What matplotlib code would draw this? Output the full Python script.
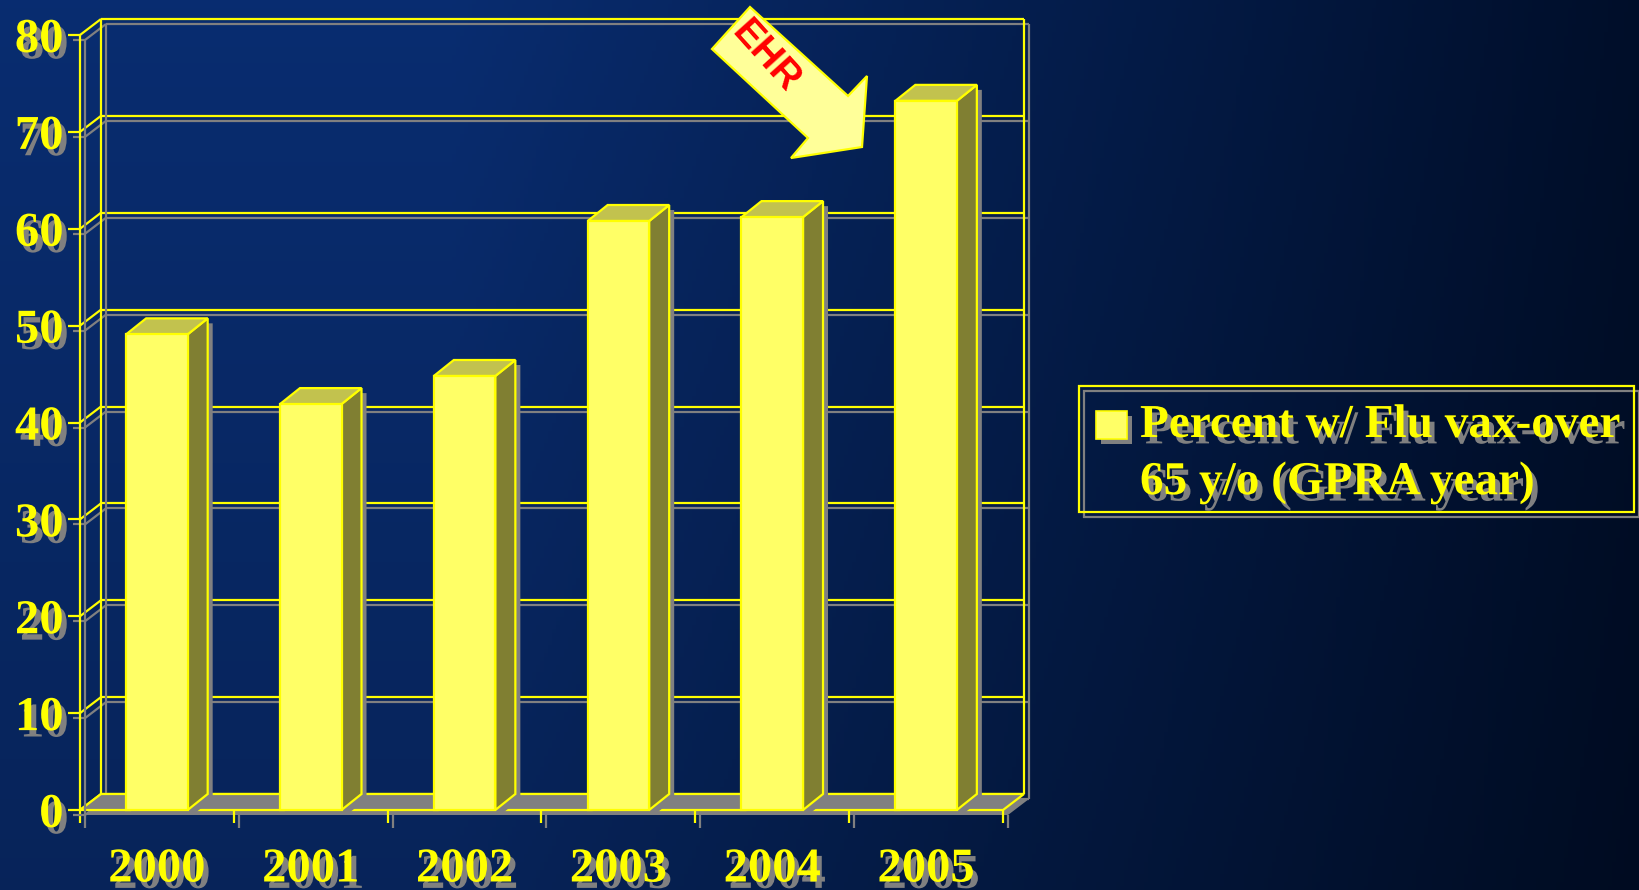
import numpy as np
import matplotlib
matplotlib.use("Agg")
import matplotlib.pyplot as plt
import matplotlib.patheffects as pe
import matplotlib.transforms as mtransforms
from matplotlib.patches import Polygon, Rectangle

# ---------------- data ----------------
years = ["2000", "2001", "2002", "2003", "2004", "2005"]
values = [49.1, 41.9, 44.8, 60.8, 61.2, 73.2]
yticks = [0, 10, 20, 30, 40, 50, 60, 70, 80]
legend_lines = ["Percent w/ Flu vax-over", "65 y/o (GPRA year)"]
callout = "EHR"

# ---------------- style ----------------
W, H, DPI = 1640, 890, 100
YEL = "#ffff00"
GRAY = "#808080"
FRONT = "#ffff66"
TOP = "#c2c24e"
SIDE = "#807f32"
plt.rcParams["font.family"] = ["Liberation Serif", "DejaVu Serif"]
plt.rcParams["font.weight"] = "bold"

def line_shadow():
    return [pe.Stroke(offset=(3.6, -3.6), foreground=GRAY), pe.Normal()]

def text_shadow():
    return [pe.SimplePatchShadow(offset=(3.6, -4.6), shadow_rgbFace=GRAY, alpha=1.0),
            pe.Normal()]

fig = plt.figure(figsize=(W / DPI, H / DPI), dpi=DPI)

# ---------------- background gradient ----------------
bg = fig.add_axes([0, 0, 1, 1], zorder=-10)
xx = np.linspace(0, W, 410)[None, :]
yy = np.linspace(0, 1, 225)[:, None]
t = np.clip((xx - 450) / 1200, 0, 1)[..., None]
c0 = np.array([0.035, 0.175, 0.44])
c1 = np.array([0.0, 0.055, 0.16])
img = (c0 * (1 - t) + c1 * t) * (1 - 0.2 * yy[..., None])
bg.imshow(img, aspect="auto", extent=[0, 1, 0, 1], origin="upper")
bg.axis("off")

# ---------------- main axes (front frame of the 3-D box) ----------------
L, R, T, B = 80, 1003, 35, 810
ax = fig.add_axes([L / W, 1 - B / H, (R - L) / W, (B - T) / H])
n = len(years)
ax.set_xlim(0, n)
ax.set_ylim(0, yticks[-1])
ax.patch.set_visible(False)
for s in ax.spines.values():
    s.set_visible(False)

p0 = ax.transData.transform((0, 0))
p1 = ax.transData.transform((1, 1))
ux, uy = p1[0] - p0[0], p1[1] - p0[1]
wdx, wdy = 21 / ux, 16 / uy     # wall depth in data units
bdx, bdy = 20 / ux, 16 / uy     # bar depth in data units
ymax = yticks[-1]

def seg(xs, ys, z=1):
    ax.plot(xs, ys, color=YEL, lw=1.6, solid_capstyle="butt", clip_on=False,
            zorder=z, path_effects=line_shadow())

# back wall + left wall grid
for g in yticks:
    seg([wdx, n + wdx], [g + wdy, g + wdy])
    seg([0, wdx], [g, g + wdy])
seg([wdx, wdx], [wdy, ymax + wdy])
seg([n + wdx, n + wdx], [wdy, ymax + wdy])
seg([0, 0], [0, ymax], z=2)

# floor
floor = Polygon([(0, 0), (n, 0), (n + wdx, wdy), (wdx, wdy)], closed=True,
                facecolor=GRAY, edgecolor=YEL, lw=1.6, clip_on=False, zorder=1.5,
                path_effects=[pe.SimplePatchShadow(offset=(3.6, -3.6),
                                                   shadow_rgbFace=GRAY, alpha=1.0),
                              pe.Normal()])
ax.add_patch(floor)

# ticks and labels
ax.set_yticks(yticks, labels=[str(v) for v in yticks])
ax.set_xticks(np.arange(n) + 0.5, labels=years)
ax.set_xticks(np.arange(n + 1), minor=True)
ax.tick_params(axis="y", direction="out", length=8.6, width=1.6, color=YEL,
               labelcolor=YEL, labelsize=35, pad=3.2)
ax.tick_params(axis="x", which="major", length=0, labelcolor=YEL,
               labelsize=35, pad=27.0)
ax.tick_params(axis="x", which="minor", direction="out", length=9.4, width=1.6,
               color=YEL)
for tk in ax.yaxis.get_major_ticks():
    tk.tick1line.set_path_effects(line_shadow())
for tk in ax.xaxis.get_minor_ticks():
    tk.tick1line.set_path_effects(line_shadow())
for lbl in ax.get_yticklabels() + ax.get_xticklabels():
    lbl.set_path_effects(text_shadow())

# bars
shadow_tr = ax.transData + mtransforms.ScaledTranslation(5 / DPI, -5 / DPI,
                                                         fig.dpi_scale_trans)
bw = 0.40
for i, v in enumerate(values):
    x0, x1 = i + 0.5 - bw / 2, i + 0.5 + bw / 2
    sil = [(x0, 0), (x0, v), (x0 + bdx, v + bdy), (x1 + bdx, v + bdy),
           (x1 + bdx, bdy), (x1, 0)]
    ax.add_patch(Polygon(sil, closed=True, facecolor=GRAY, edgecolor="none",
                         transform=shadow_tr, clip_on=False, zorder=3))
    ax.add_patch(Polygon([(x1, 0), (x1, v), (x1 + bdx, v + bdy), (x1 + bdx, bdy)],
                         closed=True, facecolor=SIDE, edgecolor=YEL, lw=1.6,
                         clip_on=False, zorder=4))
    ax.add_patch(Polygon([(x0, v), (x1, v), (x1 + bdx, v + bdy), (x0 + bdx, v + bdy)],
                         closed=True, facecolor=TOP, edgecolor=YEL, lw=1.6,
                         clip_on=False, zorder=4))
    ax.add_patch(Rectangle((x0, 0), bw, v, facecolor=FRONT, edgecolor=YEL, lw=1.6,
                           clip_on=False, zorder=5))

# ---------------- legend (drawn by hand) ----------------
def fpx(x, y):
    return (x / W, 1 - y / H)

frame = Rectangle(fpx(1079, 512), (1634 - 1079) / W, (512 - 386) / H,
                  transform=fig.transFigure, facecolor="none", edgecolor=YEL,
                  lw=1.6, path_effects=line_shadow(), zorder=5)
fig.add_artist(frame)
swatch = Rectangle(fpx(1096, 439), 31 / W, 28 / H, transform=fig.transFigure,
                   facecolor=FRONT, edgecolor=YEL, lw=1.2, zorder=6,
                   path_effects=[pe.SimplePatchShadow(offset=(3.6, -3.6),
                                                      shadow_rgbFace=GRAY, alpha=1.0),
                                 pe.Normal()])
fig.add_artist(swatch)
for k, txt in enumerate(legend_lines):
    fig.text(*fpx(1140, 426 + 57 * k), txt, ha="left", va="center", color=YEL,
             fontsize=34, path_effects=text_shadow(), zorder=6)

# ---------------- EHR callout arrow ----------------
arrow_px = [(750, 7), (848, 96), (867, 76), (862, 147), (791, 158), (808, 138), (712, 49)]
arrow = Polygon([fpx(x, y) for x, y in arrow_px], closed=True,
                transform=fig.transFigure, facecolor="#ffff99", edgecolor=YEL,
                lw=1.6, zorder=20)
fig.add_artist(arrow)
fig.text(*fpx(765, 57), callout, rotation=-48, rotation_mode="anchor",
         ha="center", va="center", color="#ff0000", fontsize=28,
         family=["Liberation Sans", "DejaVu Sans"], fontweight="bold", zorder=21)

fig.savefig("out.png", dpi=DPI)
